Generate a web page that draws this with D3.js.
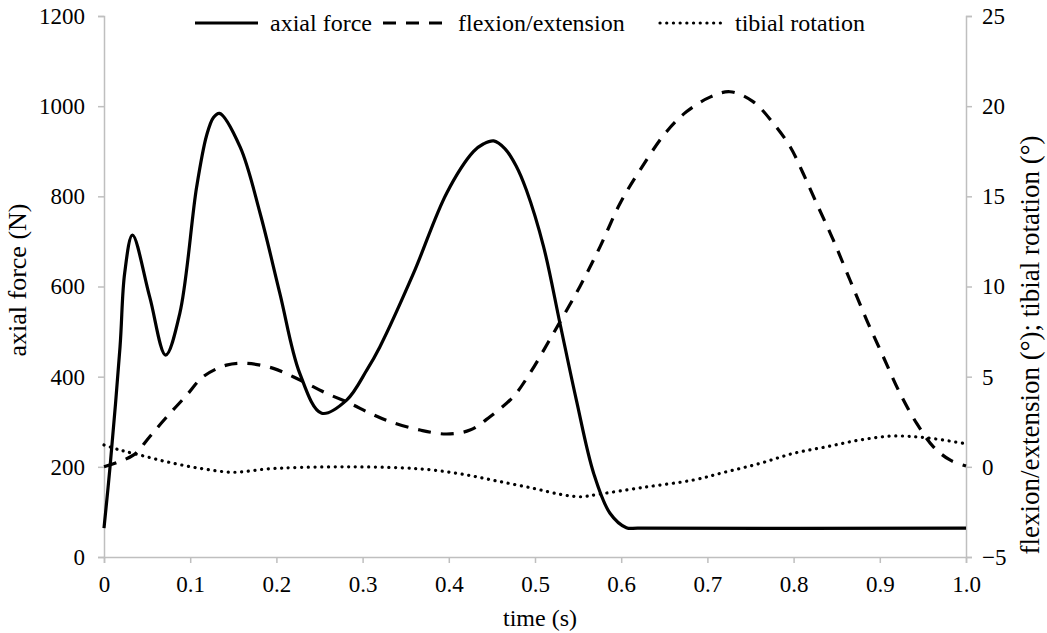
<!DOCTYPE html>
<html>
<head>
<meta charset="utf-8">
<script src="https://cdn.jsdelivr.net/npm/d3@7"></script>
<style>
  body { margin: 0; background: #fff; }
  #chart { width: 1047px; height: 633px; }
  .axis path, .axis line { stroke: #bfbfbf; stroke-width: 1.5; }
  .axisLabel { text-anchor: middle; }
</style>
</head>
<body>
<div id="chart"></div>
<script>
/* data: time (s) and value per series */
const axialTime = [0, 0.007, 0.0186, 0.024, 0.033, 0.053, 0.0715, 0.088, 0.1075, 0.119, 0.127, 0.134, 0.158, 0.181, 0.204, 0.227, 0.2525, 0.2815, 0.305, 0.32, 0.359, 0.3975, 0.4285, 0.44, 0.452, 0.465, 0.478, 0.49, 0.51, 0.529, 0.548, 0.568, 0.587, 0.606, 0.62, 1.0];
const axialForce = [64, 200, 466, 630, 714, 577, 448, 541, 821, 935, 975, 984, 909, 763, 585, 408, 319, 348, 415, 466, 629, 807, 899, 916, 923, 906, 868, 814, 688, 518, 348, 186, 97, 65, 64, 64];

const flexTime = [0, 0.034, 0.053, 0.073, 0.096, 0.115, 0.142, 0.1655, 0.1965, 0.2274, 0.2584, 0.2854, 0.3086, 0.332, 0.3666, 0.3975, 0.4246, 0.4478, 0.4748, 0.494, 0.5213, 0.552, 0.5754, 0.5986, 0.6218, 0.6528, 0.676, 0.703, 0.7262, 0.753, 0.7765, 0.796, 0.811, 0.8268, 0.846, 0.8654, 0.8848, 0.904, 0.9234, 0.9428, 0.962, 0.9814, 1.0];
const flexAngle = [0, 0.65, 1.67, 2.78, 3.98, 5.0, 5.64, 5.74, 5.46, 4.81, 4.07, 3.52, 2.97, 2.5, 2.04, 1.82, 2.04, 2.78, 3.89, 5.18, 7.4, 9.99, 12.2, 14.6, 16.46, 18.6, 19.7, 20.5, 20.8, 20.25, 19.05, 17.75, 16.28, 14.6, 12.58, 10.36, 8.14, 6.11, 4.08, 2.41, 1.12, 0.38, 0.05];

const tibTime = [0, 0.0186, 0.042, 0.0727, 0.111, 0.15, 0.1888, 0.2274, 0.2854, 0.3434, 0.382, 0.4208, 0.4594, 0.498, 0.529, 0.552, 0.575, 0.6256, 0.6836, 0.7224, 0.761, 0.80, 0.838, 0.877, 0.9157, 0.954, 1.0];
const tibAngle = [1.21, 0.93, 0.65, 0.28, -0.08, -0.30, -0.12, -0.03, 0, -0.05, -0.18, -0.45, -0.82, -1.19, -1.52, -1.66, -1.51, -1.14, -0.73, -0.27, 0.19, 0.75, 1.11, 1.49, 1.71, 1.61, 1.28];

const xTicks = [0, 0.1, 0.2, 0.3, 0.4, 0.5, 0.6, 0.7, 0.8, 0.9, 1.0];
const leftTicks = [0, 200, 400, 600, 800, 1000, 1200];
const rightTicks = [-5, 0, 5, 10, 15, 20, 25];
const legendNames = ["axial force", "flexion/extension", "tibial rotation"];

const width = 1047;
const height = 633;
const margin = { top: 16, left: 104, right: 81, bottom: 76 };
const serif = "'Liberation Serif', Tinos, 'Times New Roman', Times, 'Nimbus Roman', 'Noto Serif', 'DejaVu Serif', FreeSerif, serif";

const svg = d3.select("#chart")
    .append("svg")
    .attr("width", width)
    .attr("height", height);

const xScale = d3.scaleLinear()
    .domain([0, 1])
    .range([margin.left, width - margin.right]);

const yLeft = d3.scaleLinear()
    .domain([0, 1200])
    .range([height - margin.bottom, margin.top]);

const yRight = d3.scaleLinear()
    .domain([-5, 25])
    .range([height - margin.bottom, margin.top]);

// axes
svg.append("g")
    .attr("class", "axis")
    .attr("transform", `translate(0,${height - margin.bottom})`)
    .call(d3.axisBottom(xScale).tickValues(xTicks).tickSize(6).tickPadding(13)
        .tickFormat(d => d === 0 ? "0" : d3.format(".1f")(d)));

svg.append("g")
    .attr("class", "axis")
    .attr("transform", `translate(${margin.left},0)`)
    .call(d3.axisLeft(yLeft).tickValues(leftTicks).tickSize(6).tickPadding(13)
        .tickFormat(d3.format("d")));

svg.append("g")
    .attr("class", "axis")
    .attr("transform", `translate(${width - margin.right},0)`)
    .call(d3.axisRight(yRight).tickValues(rightTicks).tickSize(6).tickPadding(10)
        .tickFormat(d => d < 0 ? "\u2212" + Math.abs(d) : String(d)));

svg.selectAll(".axis")
    .attr("font-family", serif)
    .attr("font-size", 23);
svg.selectAll(".axis text").attr("fill", "#000");
svg.selectAll(".axis .domain").attr("stroke", "#bfbfbf");

// lines
const series = [
    { time: axialTime, vals: axialForce, y: yLeft, dash: null, cap: "butt" },
    { time: flexTime, vals: flexAngle, y: yRight, dash: "13 10", cap: "butt" },
    { time: tibTime, vals: tibAngle, y: yRight, dash: "0.1 6.6", cap: "round" }
];

series.forEach(s => {
    const pts = s.time.map((t, i) => [t, s.vals[i]]);
    const line = d3.line()
        .x(d => xScale(d[0]))
        .y(d => s.y(d[1]))
        .curve(d3.curveCatmullRom.alpha(0.5));
    svg.append("path")
        .datum(pts)
        .attr("d", line)
        .attr("fill", "none")
        .attr("stroke", "#000")
        .attr("stroke-width", 3.2)
        .attr("stroke-linecap", s.cap)
        .attr("stroke-dasharray", s.dash);
});

// legend (sample start / text start, as placed in the original)
const legendSample = [195, 383, 660];
const legendText = [270, 458, 735];
const legend = svg.append("g").attr("class", "legend");
legendNames.forEach((name, i) => {
    legend.append("line")
        .attr("x1", legendSample[i]).attr("x2", legendSample[i] + 63)
        .attr("y1", 23).attr("y2", 23)
        .attr("stroke", "#000")
        .attr("stroke-width", 3.2)
        .attr("stroke-linecap", series[i].cap)
        .attr("stroke-dasharray", series[i].dash);
    legend.append("text")
        .attr("x", legendText[i])
        .attr("y", 31)
        .attr("font-family", serif)
        .attr("font-size", 24)
        .text(name);
});

// axis titles
svg.append("text")
    .attr("class", "axisLabel")
    .attr("font-family", serif)
    .attr("font-size", 24)
    .attr("x", 540)
    .attr("y", 626)
    .text("time (s)");

svg.append("text")
    .attr("class", "axisLabel")
    .attr("font-family", serif)
    .attr("font-size", 26)
    .attr("transform", "rotate(-90)")
    .attr("x", -280)
    .attr("y", 26)
    .text("axial force (N)");

svg.append("text")
    .attr("class", "axisLabel")
    .attr("font-family", serif)
    .attr("font-size", 27)
    .attr("transform", "rotate(-90)")
    .attr("x", -345)
    .attr("y", 1039)
    .text("flexion/extension (\u00b0); tibial rotation (\u00b0)");
</script>
</body>
</html>
